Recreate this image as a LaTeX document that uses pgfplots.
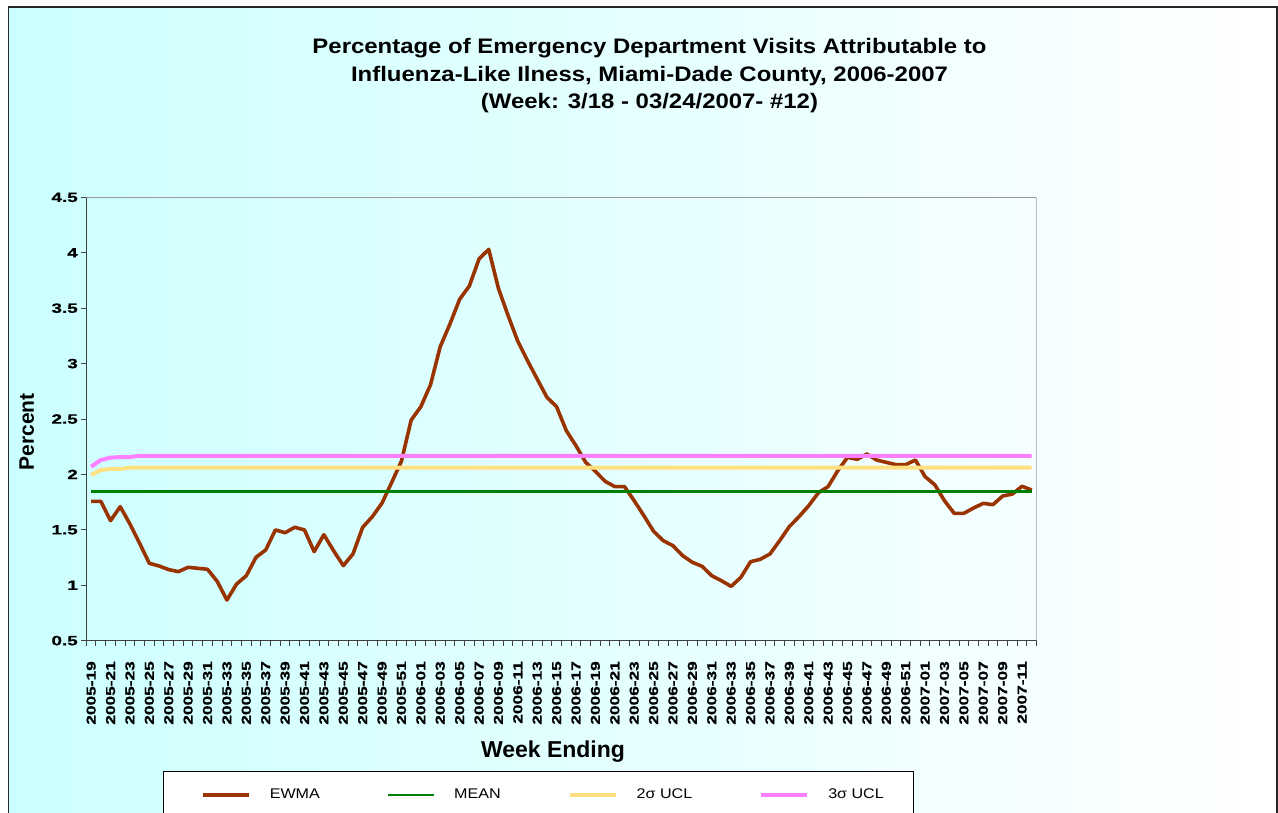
\documentclass[border=0pt]{standalone}
\usepackage{fontspec}
\setmainfont{Liberation Sans}
\newfontfamily\tickfont{Liberation Sans}[FakeStretch=1.4, FakeBold=0.8]
\newfontfamily\xtickfont{Liberation Sans}[FakeStretch=1.33, FakeBold=0.8]
\newfontfamily\titlefont{Liberation Sans}[FakeStretch=1.14]
\newfontfamily\legfont{Liberation Sans}[FakeStretch=1.15]
\usepackage{pgfplots}
\pgfplotsset{compat=1.18}
\definecolor{bgL}{HTML}{CCFFFF}
\definecolor{bgR}{HTML}{FFFFFF}
\definecolor{ewmac}{HTML}{993300}
\definecolor{meanc}{HTML}{008000}
\definecolor{uclii}{HTML}{FFE080}
\definecolor{ucliii}{HTML}{FF80FF}
\definecolor{axisdark}{HTML}{404040}
\definecolor{framegray}{HTML}{9A9A9A}

\pgfplotstableread{
x ewma mean ucl2 ucl3
0 1.757 1.845 1.995 2.070
1 1.757 1.845 2.040 2.130
2 1.583 1.845 2.049 2.151
3 1.709 1.845 2.049 2.157
4 1.553 1.845 2.061 2.157
5 1.378 1.845 2.061 2.168
6 1.198 1.845 2.061 2.168
7 1.174 1.845 2.061 2.168
8 1.141 1.845 2.061 2.168
9 1.123 1.845 2.061 2.168
10 1.162 1.845 2.061 2.168
11 1.153 1.845 2.061 2.168
12 1.144 1.845 2.061 2.168
13 1.035 1.845 2.061 2.168
14 0.867 1.845 2.061 2.168
15 1.011 1.845 2.061 2.168
16 1.086 1.845 2.061 2.168
17 1.252 1.845 2.061 2.168
18 1.318 1.845 2.061 2.168
19 1.499 1.845 2.061 2.168
20 1.474 1.845 2.061 2.168
21 1.523 1.845 2.061 2.168
22 1.499 1.845 2.061 2.168
23 1.303 1.845 2.061 2.168
24 1.456 1.845 2.061 2.168
25 1.312 1.845 2.061 2.168
26 1.177 1.845 2.061 2.168
27 1.282 1.845 2.061 2.168
28 1.523 1.845 2.061 2.168
29 1.619 1.845 2.061 2.168
30 1.742 1.845 2.061 2.168
31 1.929 1.845 2.061 2.168
32 2.120 1.845 2.061 2.168
33 2.490 1.845 2.061 2.168
34 2.611 1.845 2.061 2.168
35 2.810 1.845 2.061 2.168
36 3.153 1.845 2.061 2.168
37 3.357 1.845 2.061 2.168
38 3.580 1.845 2.061 2.168
39 3.700 1.845 2.061 2.168
40 3.944 1.845 2.061 2.168
41 4.031 1.845 2.061 2.168
42 3.679 1.845 2.061 2.168
43 3.433 1.845 2.061 2.168
44 3.201 1.845 2.061 2.168
45 3.026 1.845 2.061 2.168
46 2.861 1.845 2.061 2.168
47 2.696 1.845 2.061 2.168
48 2.611 1.845 2.061 2.168
49 2.395 1.845 2.061 2.168
50 2.259 1.845 2.061 2.168
51 2.109 1.845 2.061 2.168
52 2.028 1.845 2.061 2.168
53 1.938 1.845 2.061 2.168
54 1.890 1.845 2.061 2.168
55 1.890 1.845 2.061 2.168
56 1.763 1.845 2.061 2.168
57 1.628 1.845 2.061 2.168
58 1.487 1.845 2.061 2.168
59 1.402 1.845 2.061 2.168
60 1.357 1.845 2.061 2.168
61 1.267 1.845 2.061 2.168
62 1.207 1.845 2.061 2.168
63 1.171 1.845 2.061 2.168
64 1.086 1.845 2.061 2.168
65 1.041 1.845 2.061 2.168
66 0.990 1.845 2.061 2.168
67 1.071 1.845 2.061 2.168
68 1.212 1.845 2.061 2.168
69 1.234 1.845 2.061 2.168
70 1.282 1.845 2.061 2.168
71 1.402 1.845 2.061 2.168
72 1.529 1.845 2.061 2.168
73 1.619 1.845 2.061 2.168
74 1.718 1.845 2.061 2.168
75 1.835 1.845 2.061 2.168
76 1.890 1.845 2.061 2.168
77 2.034 1.845 2.061 2.168
78 2.154 1.845 2.061 2.168
79 2.136 1.845 2.061 2.168
80 2.184 1.845 2.061 2.168
81 2.130 1.845 2.061 2.168
82 2.109 1.845 2.061 2.168
83 2.088 1.845 2.061 2.168
84 2.088 1.845 2.061 2.168
85 2.130 1.845 2.061 2.168
86 1.980 1.845 2.061 2.168
87 1.907 1.845 2.061 2.168
88 1.763 1.845 2.061 2.168
89 1.649 1.845 2.061 2.168
90 1.649 1.845 2.061 2.168
91 1.697 1.845 2.061 2.168
92 1.739 1.845 2.061 2.168
93 1.727 1.845 2.061 2.168
94 1.805 1.845 2.061 2.168
95 1.823 1.845 2.061 2.168
96 1.893 1.845 2.061 2.168
97 1.859 1.845 2.061 2.168
}\datatable

\begin{document}
\begin{tikzpicture}[x=1pt,y=1pt]
\useasboundingbox (0,0) rectangle (1278,813);
\fill[white] (0,0) rectangle (1278,813);
\shade[left color=bgL, right color=bgR] (8.3,-10) rectangle (1276.7,806);
\draw[line width=1.6pt, black!85] (8.3,-10) -- (8.3,806) -- (1276.7,806) -- (1276.7,-10);

\node[anchor=base, font=\titlefont\fontsize{21}{21}\selectfont\bfseries] at (649.5,759.7) {Percentage of Emergency Department Visits Attributable to};
\node[anchor=base, font=\titlefont\fontsize{21}{21}\selectfont\bfseries] at (649.5,731.3) {Influenza-Like Ilness, Miami-Dade County, 2006-2007};
\node[anchor=base, font=\titlefont\fontsize{21}{21}\selectfont\bfseries] at (649.5,704) {(Week: 3/18 - 03/24/2007- \#12)};
\node[rotate=90, font=\fontsize{21}{21}\selectfont\bfseries] at (26.7,381.3) {Percent};
\node[font=\fontsize{23}{23}\selectfont\bfseries] at (553,61) {Week Ending};

\begin{axis}[
  at={(89,155.5)}, anchor=south west,
  scale only axis, width=950.3pt, height=443.3pt,
  xmin=-0.5, xmax=97.5, ymin=0.5, ymax=4.5,
  axis x line*=bottom, axis y line*=left,
  axis line style={draw=axisdark, line width=1.3pt},
  tick align=outside,
  xtick={0,2,...,96},
  xticklabels={2005-19,2005-21,2005-23,2005-25,2005-27,2005-29,2005-31,2005-33,2005-35,2005-37,2005-39,2005-41,2005-43,2005-45,2005-47,2005-49,2005-51,2006-01,2006-03,2006-05,2006-07,2006-09,2006-11,2006-13,2006-15,2006-17,2006-19,2006-21,2006-23,2006-25,2006-27,2006-29,2006-31,2006-33,2006-35,2006-37,2006-39,2006-41,2006-43,2006-45,2006-47,2006-49,2006-51,2007-01,2007-03,2007-05,2007-07,2007-09,2007-11},
  major x tick style={draw=none},
  minor xtick={-0.5,0.5,...,97.5},
  minor tick length=5pt,
  major tick length=5pt,
  tick style={draw=axisdark, line width=1pt},
  ytick={0.5,1,1.5,2,2.5,3,3.5,4,4.5},
  yticklabels={0.5,1,1.5,2,2.5,3,3.5,4,4.5},
  xticklabel style={rotate=90, anchor=east, font=\xtickfont\bfseries\fontsize{13}{13}\selectfont},
  xticklabel shift=12pt,
  yticklabel style={font=\tickfont\bfseries\fontsize{13.5}{13.5}\selectfont},
  legend columns=4,
  legend cell align=left,
  legend image code/.code={\path (-10pt,0pt); \draw[#1] (0pt,0pt) -- (46pt,0pt);},
  legend style={at={(0.0805,-0.2933)}, anchor=north west, draw=black, line width=0.8pt, fill=white,
    font=\legfont\fontsize{14}{14}\selectfont, inner ysep=16pt, inner xsep=28pt,
    /tikz/every odd column/.append style={column sep=17pt},
    /tikz/every even column/.append style={column sep=55pt}},
]
\draw[framegray, line width=1pt] (rel axis cs:0,1) -- (rel axis cs:1,1) -- (rel axis cs:1,0);
\addplot[ewmac, line width=3.6pt, line join=round] table[x=x, y=ewma] {\datatable};
\addlegendentry{EWMA}
\addplot[meanc, line width=2.3pt] table[x=x, y=mean] {\datatable};
\addlegendentry{MEAN}
\addplot[uclii, line width=4pt] table[x=x, y=ucl2] {\datatable};
\addlegendentry{2σ UCL}
\addplot[ucliii, line width=4pt] table[x=x, y=ucl3] {\datatable};
\addlegendentry{3σ UCL}
\end{axis}
\end{tikzpicture}
\end{document}
